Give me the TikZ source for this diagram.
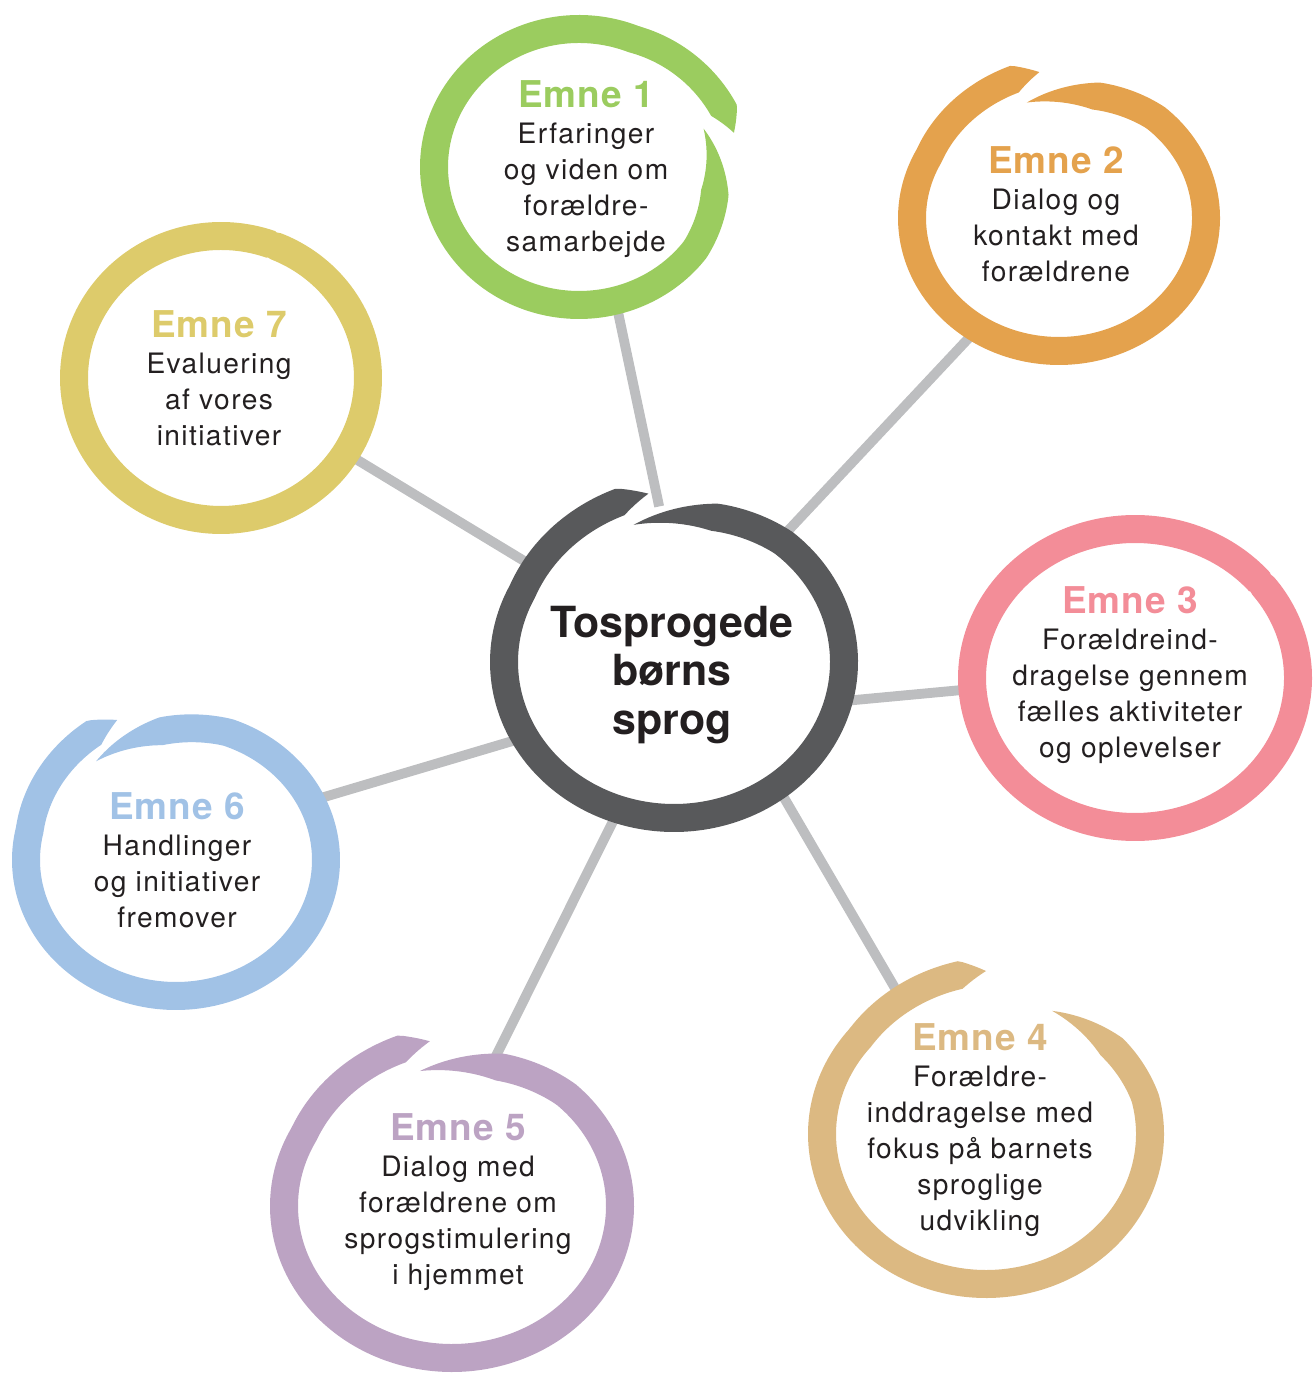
\documentclass[tikz,border=0pt]{standalone}
\usepackage{fontspec}
\setmainfont{TeX Gyre Heros}
\newfontfamily\bodyfont{TeX Gyre Heros}[LetterSpace=5]
\newfontfamily\headfont{TeX Gyre Heros}[LetterSpace=3]
\usetikzlibrary{shapes.geometric}

\definecolor{emneone}{HTML}{9BCC5F}
\definecolor{emnetwo}{HTML}{E4A24D}
\definecolor{emnethree}{HTML}{F38D98}
\definecolor{emnefour}{HTML}{DCB982}
\definecolor{emnefive}{HTML}{BCA3C3}
\definecolor{emnesix}{HTML}{A1C2E6}
\definecolor{emneseven}{HTML}{DDCB6B}
\definecolor{hubgrey}{HTML}{58595B}
\definecolor{linkgrey}{HTML}{BDBEC0}
\definecolor{textblack}{HTML}{231F20}

\newcommand{\brushring}[7]{%
  \fill[#7, shift={(#1.center)}]
    plot[domain=0:1, samples=240] ({(#2+#6*(max(0,(\x-0.85)/0.15)-max(0,(0.15-\x)/0.15))+14*min(1,\x/0.08,(1-\x)/0.025))*cos(#4-#5*\x)}, {-(#3+#6*(max(0,(\x-0.85)/0.15)-max(0,(0.15-\x)/0.15))+14*min(1,\x/0.08,(1-\x)/0.025))*sin(#4-#5*\x)})
    -- plot[domain=1:0, samples=240] ({(#2+#6*(max(0,(\x-0.85)/0.15)-max(0,(0.15-\x)/0.15))-14*min(1,\x/0.08,(1-\x)/0.025))*cos(#4-#5*\x)}, {-(#3+#6*(max(0,(\x-0.85)/0.15)-max(0,(0.15-\x)/0.15))-14*min(1,\x/0.08,(1-\x)/0.025))*sin(#4-#5*\x)})
    -- cycle;
}
\newcommand{\emne}[2]{{\headfont\bfseries\fontsize{10.5pt}{10.2pt}\selectfont\color{#1}#2}}

\begin{document}
\begin{tikzpicture}[x=0.01cm, y=-0.01cm,
    ring/.style={ellipse, inner sep=0pt, outer sep=0pt},
    link/.style={draw=linkgrey, line width=2.8pt, shorten <=-4pt, shorten >=-4pt},
    topic/.style={align=center, text=textblack, font=\bodyfont\fontsize{8pt}{10.2pt}\selectfont},
    hubtext/.style={align=center, text=textblack, font=\bfseries\fontsize{12.2pt}{13.7pt}\selectfont}]
    \useasboundingbox (0,0) rectangle (1312,1374);

    \node[ring, minimum width=3.68cm, minimum height=3.40cm] (c) at (674,662) {};
    \node[ring, minimum width=3.18cm, minimum height=3.04cm] (e1) at (579,167) {};
    \node[ring, minimum width=3.22cm, minimum height=2.94cm] (e2) at (1059,218) {};
    \node[ring, minimum width=3.54cm, minimum height=3.26cm] (e3) at (1135,678) {};
    \node[ring, minimum width=3.56cm, minimum height=3.28cm] (e4) at (986,1134) {};
    \node[ring, minimum width=3.64cm, minimum height=3.32cm] (e5) at (452,1206) {};
    \node[ring, minimum width=3.28cm, minimum height=3.00cm] (e6) at (176,860) {};
    \node[ring, minimum width=3.22cm, minimum height=3.12cm] (e7) at (221,378) {};

    \draw[link] (c.96) -- (e1.-75);
    \draw[link] (c.49) -- (e2.-127);
    \draw[link] (c.-12) -- (e3.184);
    \draw[link] (c.-51) -- (e4.122);
    \draw[link] (c.-111) -- (e5.73);
    \draw[link] (c.206) -- (e6.23);
    \draw[link] (c.146) -- (e7.-31);

    \brushring{c}{170}{156}{105}{367}{14}{hubgrey}
    \brushring{e1}{145}{138}{18}{365}{14}{emneone}
    \brushring{e2}{147}{133}{104}{367}{14}{emnetwo}
    \brushring{e3}{163}{149}{70}{400}{0}{emnethree}
    \brushring{e4}{164}{150}{64}{334}{13}{emnefour}
    \brushring{e5}{168}{152}{102}{365}{14}{emnefive}
    \brushring{e6}{150}{136}{126}{375}{14}{emnesix}
    \brushring{e7}{147}{142}{100}{400}{0}{emneseven}

    \node[hubtext] (ctext) at (672,675) {Tosprogede\\børns\\sprog};
    \node[topic] (t1) at (586,169) {\emne{emneone}{Emne 1}\\Erfaringer\\og viden om\\forældre-\\samarbejde};
    \node[topic] (t2) at (1056,214) {\emne{emnetwo}{Emne 2}\\Dialog og\\kontakt med\\forældrene};
    \node[topic] (t3) at (1130,675) {\emne{emnethree}{Emne 3}\\Forældreind-\\dragelse gennem\\fælles aktiviteter\\og oplevelser};
    \node[topic] (t4) at (980,1130) {\emne{emnefour}{Emne 4}\\Forældre-\\inddragelse med\\fokus på barnets\\sproglige\\udvikling};
    \node[topic] (t5) at (458,1202) {\emne{emnefive}{Emne 5}\\Dialog med\\forældrene om\\sprogstimulering\\i hjemmet};
    \node[topic] (t6) at (177,860) {\emne{emnesix}{Emne 6}\\Handlinger\\og initiativer\\fremover};
    \node[topic] (t7) at (219,378) {\emne{emneseven}{Emne 7}\\Evaluering\\af vores\\initiativer};
\end{tikzpicture}
\end{document}
